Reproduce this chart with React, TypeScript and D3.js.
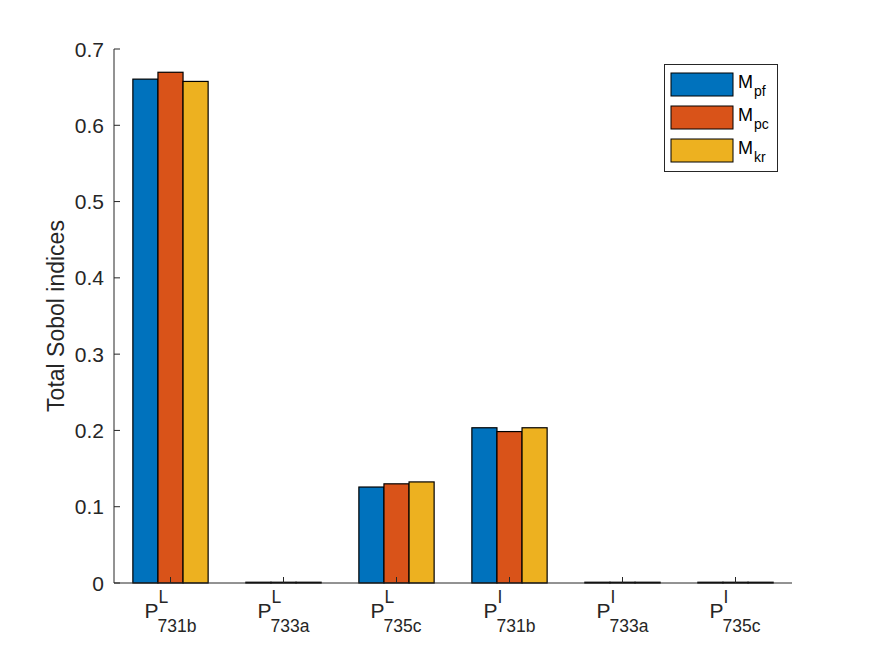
import React from "react";
import * as d3 from "d3";

const categories = ["731b", "733a", "735c", "731b", "733a", "735c"];
const superscripts = ["L", "L", "L", "I", "I", "I"];
const seriesNames = ["pf", "pc", "kr"];
const seriesPf = [0.6605, 0.001, 0.1258, 0.2035, 0.001, 0.001];
const seriesPc = [0.6695, 0.001, 0.1300, 0.1985, 0.001, 0.001];
const seriesKr = [0.6575, 0.001, 0.1325, 0.2035, 0.001, 0.001];
const yTicks = [0, 0.1, 0.2, 0.3, 0.4, 0.5, 0.6, 0.7];
const colors = ["#0072BD", "#D95319", "#EDB120"];

const W = 875, H = 656;
const m = { left: 114, right: 83, top: 49, bottom: 73 };
const font = "Liberation Sans, Arial, Helvetica, sans-serif";

export default function App() {
  const series = [seriesPf, seriesPc, seriesKr];
  const x = d3.scaleLinear().domain([0.5, 6.5]).range([m.left, W - m.right]);
  const y = d3.scaleLinear().domain([0, 0.7]).range([H - m.bottom, m.top]);
  const step = x(2) - x(1);
  const barW = step * 0.222;
  const y0 = y(0);
  return (
    <svg width={W} height={H} style={{ position: "absolute", left: 0, top: 0, background: "#fff" }} fontFamily={font}>
      <rect x={0} y={0} width={W} height={H} fill="#fff" />
      {categories.map((c, i) =>
        series.map((s, k) => {
          const cx = x(i + 1) + (k - 1) * barW;
          return (
            <rect
              key={`${i}-${k}`}
              x={cx - barW / 2}
              y={y(s[i])}
              width={barW}
              height={y0 - y(s[i])}
              fill={colors[k]}
              stroke="#000"
              strokeWidth={1.2}
            />
          );
        })
      )}
      {/* axes */}
      <line x1={m.left} x2={W - m.right} y1={y0} y2={y0} stroke="#262626" strokeWidth={1} />
      <line x1={m.left} x2={m.left} y1={m.top} y2={y0} stroke="#262626" strokeWidth={1} />
      {yTicks.map((t) => (
        <g key={t}>
          <line x1={m.left} x2={m.left + 6} y1={y(t)} y2={y(t)} stroke="#262626" />
          <text x={m.left - 10} y={y(t)} dy="0.36em" textAnchor="end" fontSize={21} fill="#262626">
            {t === 0 ? "0" : t.toFixed(1)}
          </text>
        </g>
      ))}
      {categories.map((c, i) => {
        const cx = x(i + 1);
        return (
          <g key={`xl${i}`}>
            <line x1={cx} x2={cx} y1={y0} y2={y0 - 6} stroke="#262626" />
            <text x={cx - 26} y={618} fontSize={21} fill="#262626">P</text>
            <text x={cx - 12} y={603} fontSize={17.5} fill="#262626">{superscripts[i]}</text>
            <text x={cx - 13} y={631.5} fontSize={17.5} fill="#262626">{c}</text>
          </g>
        );
      })}
      <text
        transform={`translate(64,${(m.top + y0) / 2}) rotate(-90)`}
        textAnchor="middle"
        fontSize={23}
        fill="#262626"
      >
        Total Sobol indices
      </text>
      {/* legend */}
      <rect x={664.5} y={64.5} width={113} height={107} fill="#fff" stroke="#262626" strokeWidth={1} />
      {seriesNames.map((n, k) => {
        const ty = 73 + k * 33;
        return (
          <g key={n}>
            <rect x={671} y={ty} width={62} height={23} fill={colors[k]} stroke="#000" strokeWidth={1} />
            <text x={738} y={ty + 14.5} fontSize={18} fill="#000">M</text>
            <text x={754} y={ty + 22.5} fontSize={14} fill="#000">{n}</text>
          </g>
        );
      })}
    </svg>
  );
}
